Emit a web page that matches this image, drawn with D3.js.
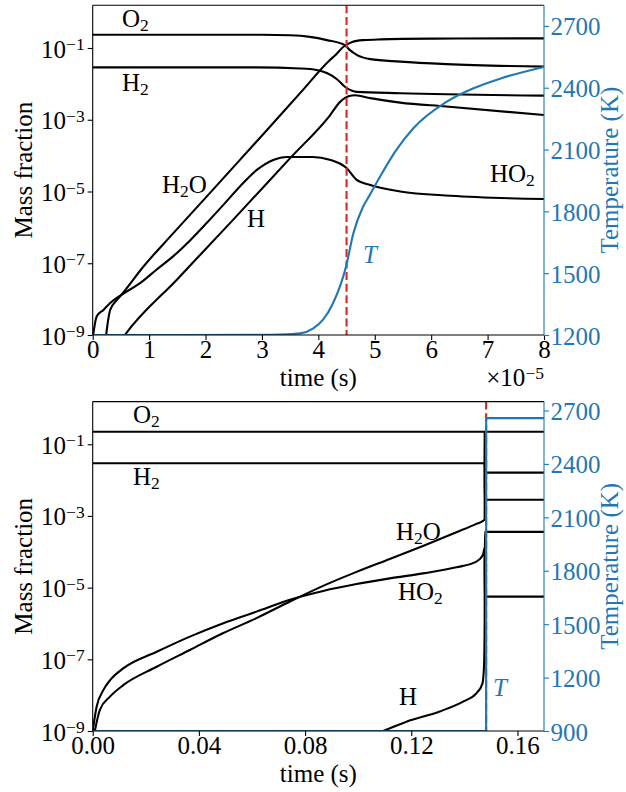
<!DOCTYPE html>
<html><head><meta charset="utf-8">
<script src="https://cdn.jsdelivr.net/npm/d3@7"></script>
<style>
body{margin:0;background:#fff}
svg{display:block}
text{font-family:"Liberation Serif","Times New Roman",serif}
</style>
</head><body>
<svg id="chart" width="626" height="792"></svg>
<script>
// ---------------- DATA ----------------
// Top panel: time in seconds, mass fraction
const topO2  = [[0,0.234],[3.0e-5,0.234],[3.5e-5,0.226],[3.85e-5,0.204],[4.15e-5,0.166],[4.47e-5,0.120],[4.56e-5,0.0871],[4.68e-5,0.0646],[4.92e-5,0.0490],[5.45e-5,0.0417],[6.27e-5,0.0355],[8e-5,0.0302]];
const topH2  = [[0,0.0288],[2.9e-5,0.0288],[3.68e-5,0.0269],[3.97e-5,0.0245],[4.15e-5,0.0200],[4.33e-5,0.0135],[4.47e-5,0.0083],[4.56e-5,0.0068],[4.68e-5,0.0060],[5.45e-5,0.0055],[8e-5,0.0047]];
const topH2O = [[0.2e-5,3e-10],[0.31e-5,5.0e-9],[0.43e-5,9.5e-9],[0.51e-5,1.32e-8],[0.90e-5,8.1e-8],[1.43e-5,6.9e-7],[2.02e-5,7.2e-6],[2.61e-5,7.6e-5],[3.09e-5,5.2e-4],[3.68e-5,5.6e-3],[4.21e-5,0.047],[4.3e-5,0.063],[4.45e-5,0.11],[4.6e-5,0.148],[4.8e-5,0.166],[5.1e-5,0.174],[6e-5,0.182],[8e-5,0.186]];
const topHO2 = [[0,8e-10],[0.07e-5,3.3e-9],[0.19e-5,5.0e-9],[0.31e-5,7.8e-9],[0.51e-5,1.32e-8],[0.84e-5,2.8e-8],[1.13e-5,6.6e-8],[1.43e-5,1.58e-7],[1.73e-5,4.4e-7],[2.02e-5,1.32e-6],[2.32e-5,4.3e-6],[2.61e-5,1.38e-5],[2.91e-5,4.0e-5],[3.2e-5,7.6e-5],[3.44e-5,9.2e-5],[3.9e-5,9.2e-5],[4.2e-5,7.7e-5],[4.5e-5,4.5e-5],[4.68e-5,2.1e-5],[4.92e-5,1.51e-5],[5.45e-5,1.0e-5],[6.34e-5,7.6e-6],[8e-5,6.2e-6]];
const topH   = [[0.5e-5,7e-10],[0.57e-5,1e-9],[1.5e-5,3.6e-8],[2.5e-5,1.7e-6],[3.5e-5,8.5e-5],[4.2e-5,1.29e-3],[4.39e-5,3.2e-3],[4.55e-5,4.6e-3],[4.65e-5,4.8e-3],[4.92e-5,4.0e-3],[5.45e-5,3.0e-3],[6.27e-5,2.34e-3],[8e-5,1.35e-3]];
const topT   = [[0,1200],[3.0e-5,1200.5],[3.32e-5,1202],[3.68e-5,1208],[3.91e-5,1232],[4.08e-5,1273],[4.26e-5,1354],[4.49e-5,1531],[4.62e-5,1693],[4.79e-5,1821],[4.90e-5,1874],[5.09e-5,1967],[5.38e-5,2097],[5.68e-5,2202],[6.27e-5,2331],[6.74e-5,2396],[7.22e-5,2444],[8e-5,2501]];
const topIgnition = 4.5e-5;

// Bottom panel: time in seconds, mass fraction
const botO2  = [[0,0.224],[0.14765,0.224],[0.14768,0.0162],[0.17,0.0162]];
const botH2  = [[0,0.0295],[0.14765,0.0295],[0.14768,0.00282],[0.17,0.00282]];
const botH2O = [[0.0008,1e-9],[0.0027,3.9e-9],[0.0065,9.1e-9],[0.0115,1.9e-8],[0.0241,6.2e-8],[0.0366,1.82e-7],[0.0492,5.4e-7],[0.0617,1.41e-6],[0.0743,4.1e-6],[0.0868,1.12e-5],[0.0994,2.75e-5],[0.1119,6.3e-5],[0.1244,1.45e-4],[0.137,3.5e-4],[0.1445,6.0e-4],[0.14765,7.8e-4],[0.14768,0.224],[0.17,0.224]];
const botHO2 = [[0,1e-9],[0.0015,4.8e-9],[0.004,1.38e-8],[0.0065,2.6e-8],[0.0115,5.6e-8],[0.0241,1.62e-7],[0.0366,4.3e-7],[0.0492,1.02e-6],[0.0617,2.14e-6],[0.0743,4.6e-6],[0.0868,8.1e-6],[0.0994,1.26e-5],[0.1119,1.81e-5],[0.1244,2.5e-5],[0.137,3.7e-5],[0.1445,5.3e-5],[0.147,8.1e-5],[0.14765,1.3e-4],[0.14768,5.6e-6],[0.17,5.6e-6]];
const botH   = [[0.1094,1e-9],[0.1182,1.82e-9],[0.1307,3.5e-9],[0.1395,6.6e-9],[0.1445,1.12e-8],[0.1468,2.1e-8],[0.1474,6.3e-8],[0.14765,1e-6],[0.14768,3.6e-4],[0.17,3.6e-4]];
const botT   = [[0,900],[0.1482,900],[0.14822,2657],[0.17,2657]];
const botIgnition = 0.1482;

// Axis ticks
const massTicks = [1e-9,1e-7,1e-5,1e-3,1e-1];
const topTimeTicks = [0,1e-5,2e-5,3e-5,4e-5,5e-5,6e-5,7e-5,8e-5];
const botTimeTicks = [0,0.04,0.08,0.12,0.16];
const topTempTicks = [1200,1500,1800,2100,2400,2700];
const botTempTicks = [900,1200,1500,1800,2100,2400,2700];

// ---------------- DRAWING ----------------
const BLUE = "#1f77b4", RED = "#d62728";
const FS = 25;
const FF = "'Liberation Serif','Times New Roman',serif";
const L = 92.7, R = 544;
const svg = d3.select("#chart");

function sub(textSel, parts) {
  let prevSub = false;
  parts.forEach(([s, isSub]) => {
    const t = textSel.append("tspan").text(s);
    if (isSub && !prevSub) t.attr("dy", 4).attr("font-size", FS * 0.7);
    else if (!isSub && prevSub) t.attr("dy", -4);
    prevSub = isSub;
  });
}

function styleAxis(g, color) {
  g.attr("font-family", FF).attr("font-size", FS);
  g.select(".domain").remove();
  g.selectAll(".tick line").attr("stroke", color).attr("stroke-width", 1.1);
  g.selectAll(".tick text").attr("fill", color).attr("font-size", FS).attr("font-family", FF);
}

function drawPanel(p) {
  const g = svg.append("g");
  const x = d3.scaleLinear().domain(p.xDomain).range([L, R]);
  const y = d3.scaleLog().domain([1e-9, 1.55]).range([p.bottom, p.top]);
  const yT = d3.scaleLinear().domain(p.tDomain).range([p.bottom, p.top]);

  svg.append("clipPath").attr("id", "clip" + p.id).append("rect")
    .attr("x", L).attr("y", p.top).attr("width", R - L).attr("height", p.bottom - p.top);
  const plot = g.append("g").attr("clip-path", `url(#clip${p.id})`);

  const line = d3.line().x(d => x(d[0])).y(d => y(d[1])).curve(d3.curveMonotoneX);
  p.series.forEach(s => plot.append("path").attr("d", line(s))
    .attr("fill", "none").attr("stroke", "#000").attr("stroke-width", 2.1));

  plot.append("line").attr("x1", x(p.ignition)).attr("x2", x(p.ignition))
    .attr("y1", p.top).attr("y2", p.bottom)
    .attr("stroke", RED).attr("stroke-width", 2.1).attr("stroke-dasharray", "8,3.6");

  const tLine = d3.line().x(d => x(d[0])).y(d => yT(d[1])).curve(p.tCurve);
  plot.append("path").attr("d", tLine(p.temp)).attr("fill", "none")
    .attr("stroke", BLUE).attr("stroke-width", 2.1);

  // x axis
  const gx = g.append("g").attr("transform", `translate(0,${p.bottom})`)
    .call(d3.axisBottom(x).tickValues(p.xTicks).tickFormat(p.xFormat)
      .tickSize(5).tickPadding(0.5).tickSizeOuter(0));
  styleAxis(gx, "#000");

  // left log axis
  const gy = g.append("g").attr("transform", `translate(${L},0)`)
    .call(d3.axisLeft(y).tickValues(massTicks).tickFormat(() => "")
      .tickSize(5).tickPadding(3).tickSizeOuter(0));
  styleAxis(gy, "#000");
  gy.selectAll(".tick text").attr("dy", "0.36em").each(function(d) {
    const t = d3.select(this);
    t.text("10");
    t.append("tspan").attr("dy", "-0.42em").attr("font-size", FS * 0.7)
      .text("\u2212" + Math.round(-Math.log10(d)));
  });

  // right temperature axis
  const gr = g.append("g").attr("transform", `translate(${R},0)`)
    .call(d3.axisRight(yT).tickValues(p.tTicks).tickFormat(d3.format("d"))
      .tickSize(5).tickPadding(1.5).tickSizeOuter(0));
  styleAxis(gr, BLUE);
  gr.selectAll(".tick text").attr("dy", "0.36em");

  // spines
  const sp = g.append("g").attr("stroke-width", 1.1);
  sp.append("line").attr("x1", L).attr("x2", L).attr("y1", p.top).attr("y2", p.bottom).attr("stroke", "#000");
  sp.append("line").attr("x1", L).attr("x2", R).attr("y1", p.top).attr("y2", p.top).attr("stroke", "#000");
  sp.append("line").attr("x1", L).attr("x2", R).attr("y1", p.bottom).attr("y2", p.bottom).attr("stroke", "#000");
  sp.append("line").attr("x1", R).attr("x2", R).attr("y1", p.top).attr("y2", p.bottom).attr("stroke", BLUE);

  // axis titles
  const cy = (p.top + p.bottom) / 2;
  g.append("text").attr("x", (L + R) / 2).attr("y", p.bottom + 51).attr("text-anchor", "middle")
    .attr("font-size", FS).text("time (s)");
  g.append("text").attr("transform", `translate(32,${cy}) rotate(-90)`).attr("text-anchor", "middle")
    .attr("font-size", FS).text("Mass fraction");
  g.append("text").attr("transform", `translate(618,${cy}) rotate(-90)`).attr("text-anchor", "middle")
    .attr("font-size", FS).attr("fill", BLUE).text("Temperature (K)");

  if (p.offsetText) {
    const ot = g.append("text").attr("x", R).attr("y", p.bottom + 51).attr("text-anchor", "end")
      .attr("font-size", FS);
    ot.append("tspan").text("\u00d710");
    ot.append("tspan").attr("dy", "-0.42em").attr("font-size", FS * 0.7).text(p.offsetText);
  }

  // species labels
  p.labels.forEach(lb => {
    const t = g.append("text").attr("x", lb.x).attr("y", lb.y).attr("font-size", FS);
    if (lb.color) t.attr("fill", lb.color);
    if (lb.italic) t.attr("font-style", "italic");
    sub(t, lb.parts);
  });
}

drawPanel({
  id: "top", top: 5.3, bottom: 335,
  xDomain: [0, 8e-5], xTicks: topTimeTicks, xFormat: d => d3.format("d")(Math.round(d / 1e-5)),
  tDomain: [1200, 2800], tTicks: topTempTicks,
  series: [topO2, topH2, topH2O, topHO2, topH], temp: topT, tCurve: d3.curveMonotoneX,
  ignition: topIgnition, offsetText: "\u22125",
  labels: [
    {x: 122, y: 27, parts: [["O", false], ["2", true]]},
    {x: 122, y: 91, parts: [["H", false], ["2", true]]},
    {x: 162, y: 193, parts: [["H", false], ["2", true], ["O", false]]},
    {x: 247, y: 227, parts: [["H", false]]},
    {x: 490, y: 182, parts: [["HO", false], ["2", true]]},
    {x: 363, y: 263, parts: [["T", false]], color: BLUE, italic: true}
  ]
});

drawPanel({
  id: "bot", top: 401.6, bottom: 731,
  xDomain: [0, 0.17], xTicks: botTimeTicks, xFormat: d3.format(".2f"),
  tDomain: [900, 2750], tTicks: botTempTicks,
  series: [botO2, botH2, botH2O, botHO2, botH], temp: botT, tCurve: d3.curveLinear,
  ignition: botIgnition, offsetText: null,
  labels: [
    {x: 133, y: 423, parts: [["O", false], ["2", true]]},
    {x: 133, y: 485, parts: [["H", false], ["2", true]]},
    {x: 396, y: 540, parts: [["H", false], ["2", true], ["O", false]]},
    {x: 398, y: 600, parts: [["HO", false], ["2", true]]},
    {x: 399, y: 705, parts: [["H", false]]},
    {x: 493, y: 696, parts: [["T", false]], color: BLUE, italic: true}
  ]
});
</script>
</body></html>
